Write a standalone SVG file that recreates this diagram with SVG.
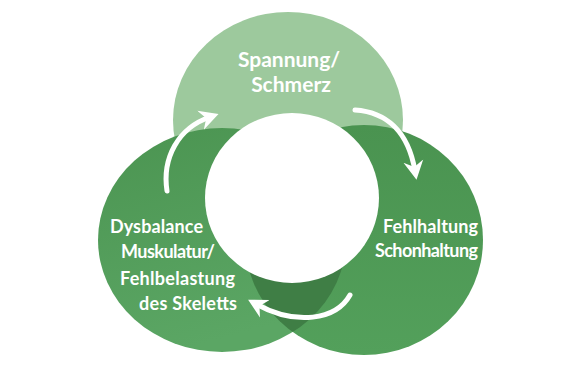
<svg xmlns="http://www.w3.org/2000/svg" width="576" height="384" viewBox="0 0 576 384">
  <style>
    .lbl { font-family: Lato, "Open Sans", "DejaVu Sans", sans-serif; font-weight: 700; fill: #ffffff; font-size: 18px; }
    .big { font-size: 21px; }
    .arrow { fill: none; stroke: #ffffff; stroke-width: 5; stroke-linecap: round; }
  </style>
  <defs>
    <linearGradient id="gLeft" x1="0" y1="0" x2="0.3" y2="1">
      <stop offset="0" stop-color="#4b9451"/>
      <stop offset="1" stop-color="#5ba664"/>
    </linearGradient>
    <linearGradient id="gRight" x1="0" y1="0" x2="0" y2="1">
      <stop offset="0" stop-color="#4a9350"/>
      <stop offset="1" stop-color="#53a05b"/>
    </linearGradient>
    <clipPath id="clipLeft">
      <ellipse cx="222" cy="240" rx="124" ry="112"/>
    </clipPath>
    <marker id="head" viewBox="0 0 20 22" markerWidth="20" markerHeight="22" refX="10" refY="11" orient="auto" markerUnits="userSpaceOnUse">
      <path d="M0,1 L19,11 L0,21 L6,11 Z" fill="#ffffff"/>
    </marker>
  </defs>

  <rect width="576" height="384" fill="#ffffff"/>

  <g id="node-top">
    <ellipse cx="288" cy="120" rx="115" ry="108" fill="#9dc99d"/>
  </g>
  <g id="node-left">
    <ellipse cx="222" cy="240" rx="124" ry="112" fill="url(#gLeft)"/>
  </g>
  <g id="node-right">
    <ellipse cx="364" cy="240" rx="119" ry="115" fill="url(#gRight)"/>
  </g>
  <g id="overlap">
    <ellipse cx="364" cy="240" rx="119" ry="115" fill="#3f7e45" clip-path="url(#clipLeft)"/>
  </g>
  <g id="center">
    <ellipse cx="292" cy="198" rx="87" ry="85" fill="#ffffff"/>
  </g>

  <g id="labels">
    <text class="lbl big" x="289" y="67" text-anchor="middle">Spannung/</text>
    <text class="lbl big" x="291" y="92" text-anchor="middle">Schmerz</text>
    <text class="lbl" x="110" y="233" textLength="93">Dysbalance</text>
    <text class="lbl" x="121" y="258" textLength="94">Muskulatur/</text>
    <text class="lbl" x="120" y="285" textLength="115">Fehlbelastung</text>
    <text class="lbl" x="139" y="310" textLength="98">des Skeletts</text>
    <text class="lbl" x="383" y="233" textLength="95">Fehlhaltung</text>
    <text class="lbl" x="375" y="257" textLength="103">Schonhaltung</text>
  </g>

  <g id="connectors">
    <path class="arrow" d="M167,191 C162,158 178,128 210,117" marker-end="url(#head)"/>
    <path class="arrow" d="M355,110 C385,112 408,130 415,171" marker-end="url(#head)"/>
    <path class="arrow" d="M350,295 C336,320 296,326 256,304" marker-end="url(#head)"/>
  </g>
</svg>
